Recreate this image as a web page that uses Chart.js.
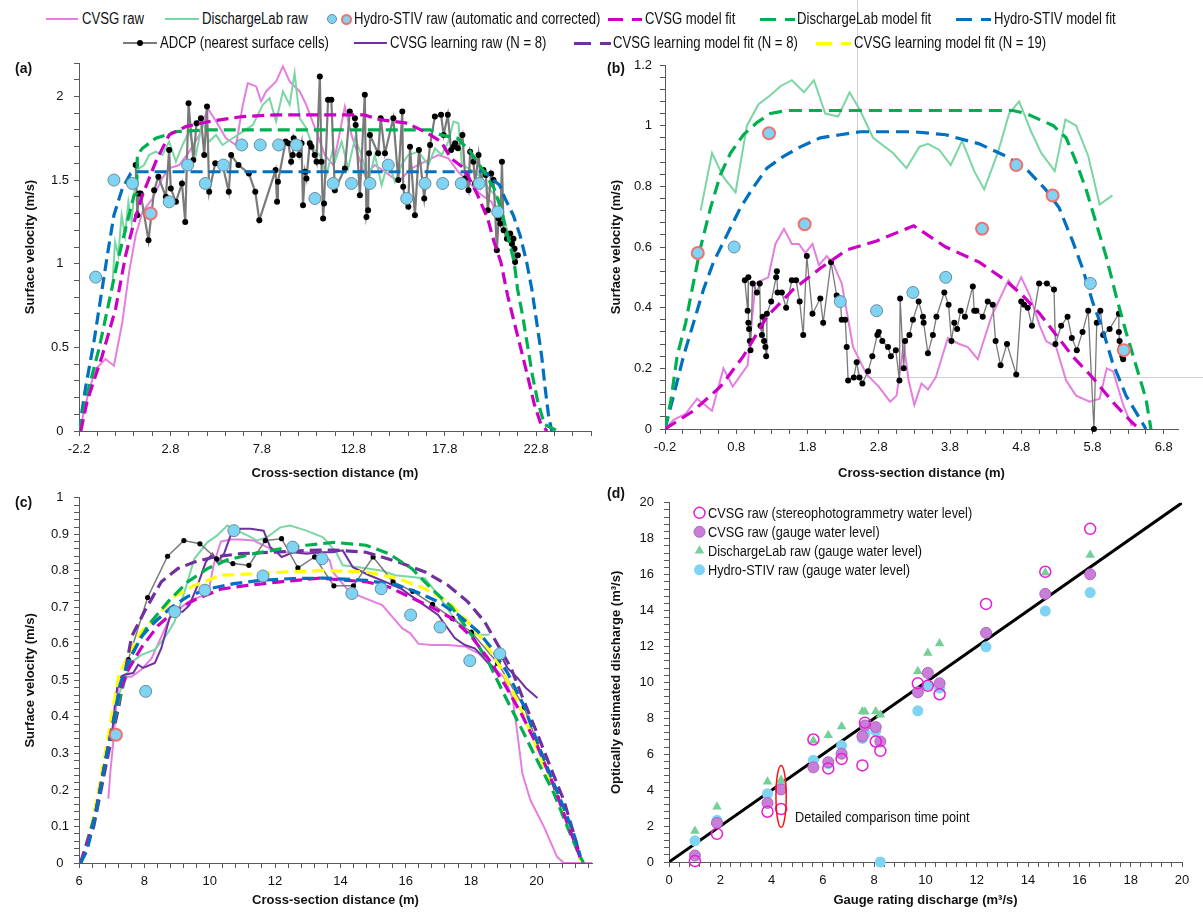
<!DOCTYPE html>
<html>
<head>
<meta charset="utf-8">
<script src="https://cdn.jsdelivr.net/npm/chart.js@4.4.1/dist/chart.umd.min.js"></script>
<style>
  body { margin: 0; background: #fff; width: 1203px; height: 924px; position: relative; overflow: hidden;
         font-family: "Liberation Sans", Arial, sans-serif; color: #111; }
  canvas { position: absolute; }
  .lg { position: absolute; font-size: 16px; line-height: 18px; white-space: nowrap; transform: scaleX(0.82); transform-origin: 0 50%; }
  .sw { position: absolute; }
  .tag { position: absolute; font-weight: bold; font-size: 14px; line-height: 18px; }
  .note { position: absolute; font-size: 15.5px; line-height: 18px; white-space: nowrap; transform: scaleX(0.82); transform-origin: 0 50%; }
</style>
</head>
<body>
<canvas id="chartA" width="600" height="437" style="left:0;top:48px"></canvas>
<canvas id="chartB" width="603" height="485" style="left:600px;top:0"></canvas>
<canvas id="chartC" width="600" height="439" style="left:0;top:485px"></canvas>
<canvas id="chartD" width="603" height="439" style="left:600px;top:485px"></canvas>
<div class="tag" style="left:15px;top:59px">(a)</div>
<div class="tag" style="left:607px;top:59px">(b)</div>
<div class="tag" style="left:15px;top:493px">(c)</div>
<div class="tag" style="left:607px;top:484px">(d)</div>
<div class="note" style="left:795px;top:808px">Detailed comparison time point</div>
<div id="legend"></div>
<script>
// ---- panel (a) ----
var aCvsgRaw = [[-2.17,0],[-1.66,0.24],[-1.29,0.37],[-0.75,0.43],[-0.29,0.39],[0.17,0.65],[0.54,0.95],[0.9,1.17],[1.27,1.31],[1.82,1.39],[2.35,1.51],[2.73,1.57],[3.28,1.59],[3.83,1.67],[4.38,1.77],[4.83,1.93],[5.3,1.85],[5.84,1.75],[6.39,1.71],[6.76,1.95],[7.03,2.08],[7.49,2.06],[7.76,1.97],[8.03,2.03],[8.58,2.09],[8.95,2.18],[9.32,2.09],[9.87,2.03],[10.23,1.95],[10.78,1.79],[11.24,1.65],[11.7,1.59],[12.0,1.75],[12.34,1.94],[12.7,1.77],[13.06,1.65],[13.43,1.53],[13.98,1.59],[14.53,1.55],[15.26,1.49],[15.99,1.57],[16.72,1.61],[17.45,1.65],[18.0,1.63],[18.54,1.55],[19.27,1.47],[19.82,1.41],[20.37,1.37],[20.6,1.3]];
var aDlRaw = [[-0.38,0.85],[-0.23,1.13],[-0.05,1.05],[0.13,1.29],[0.32,1.17],[0.5,1.37],[0.68,1.25],[0.87,1.49],[1.08,1.57],[1.36,1.59],[1.63,1.65],[2.0,1.67],[2.36,1.65],[2.73,1.73],[3.1,1.61],[3.46,1.71],[3.83,1.79],[4.19,1.65],[4.56,1.85],[4.92,1.73],[5.29,1.77],[5.65,1.71],[6.2,1.75],[6.76,1.79],[7.31,1.83],[7.85,1.95],[8.22,1.99],[8.58,1.85],[8.95,2.03],[9.32,1.95],[9.59,2.14],[9.87,1.87],[10.23,1.81],[10.6,1.69],[10.96,1.65],[11.33,1.53],[11.7,1.69],[11.79,1.61],[12.16,1.73],[12.52,1.57],[12.89,1.75],[13.25,1.65],[13.62,1.49],[13.98,1.65],[14.35,1.47],[14.71,1.61],[15.08,1.49],[15.44,1.59],[15.81,1.65],[16.36,1.67],[16.91,1.59],[17.27,1.69],[17.64,1.65],[18.0,1.73],[18.28,1.85],[18.55,1.84],[18.74,1.59],[19.1,1.57],[19.65,1.53],[20.2,1.45],[20.75,1.39],[21.1,1.25],[21.47,1.09],[21.65,0.99]];
var aCvsgFit = [[-2.1,0],[-1.75,0.18],[-0.93,0.45],[-0.2,0.73],[0.35,1.05],[0.81,1.25],[1.27,1.41],[2.0,1.61],[2.73,1.77],[3.64,1.82],[4.92,1.85],[6.75,1.88],[8.58,1.89],[11.87,1.89],[13.4,1.89],[14.3,1.86],[15.76,1.84],[16.86,1.78],[17.6,1.73],[18.14,1.63],[18.87,1.57],[19.6,1.41],[20.15,1.27],[20.5,1.13],[20.87,1.01],[21.24,0.81],[21.6,0.65],[21.97,0.49],[22.33,0.33],[22.7,0.16],[23.06,0.04],[23.4,0]];
var aDlFit = [[-2.2,0],[-1.66,0.26],[-1.11,0.49],[-0.56,0.77],[-0.1,1.01],[0.35,1.21],[0.81,1.41],[0.95,1.42],[0.99,1.65],[1.27,1.69],[2.0,1.75],[3.1,1.79],[4.9,1.8],[17.0,1.8],[17.6,1.77],[18.5,1.75],[19.2,1.67],[19.95,1.55],[20.5,1.45],[20.87,1.33],[21.24,1.17],[21.6,1.01],[21.78,0.85],[22.06,0.69],[22.33,0.51],[22.6,0.33],[22.88,0.18],[23.25,0.04],[23.98,0]];
var aStivFit = [[-2.2,0],[-1.84,0.26],[-1.39,0.53],[-1.02,0.79],[-0.65,1.05],[-0.29,1.29],[0.17,1.45],[0.63,1.54],[0.9,1.55],[20.0,1.55],[20.35,1.51],[20.8,1.47],[21.1,1.39],[21.55,1.29],[21.92,1.17],[22.28,1.01],[22.56,0.85],[22.83,0.65],[23.1,0.45],[23.29,0.26],[23.47,0.1],[23.65,0]];
var aAdcp = [[0.9,1.59],[0.99,1.29],[1.08,1.42],[1.17,1.42],[1.6,1.14],[1.91,1.44],[2.14,1.52],[2.55,1.4],[2.73,1.68],[2.82,1.45],[3.1,1.37],[3.43,1.48],[3.61,1.25],[3.79,1.96],[4.05,1.62],[4.23,1.84],[4.47,1.87],[4.65,1.65],[4.8,1.94],[4.92,1.43],[5.25,1.6],[5.65,1.59],[5.99,1.43],[6.12,1.65],[6.52,1.59],[7.09,1.54],[7.44,1.43],[7.66,1.26],[8.55,1.56],[8.63,1.37],[8.68,1.49],[9.1,1.73],[9.25,1.72],[9.4,1.61],[9.49,1.65],[9.54,1.75],[9.65,1.71],[9.76,1.7],[9.84,1.65],[9.97,1.72],[10.05,1.35],[10.16,1.55],[10.24,1.51],[10.42,1.72],[10.51,1.7],[10.69,1.65],[10.79,1.61],[10.97,2.12],[11.06,1.61],[11.15,1.27],[11.2,1.36],[11.42,1.98],[11.6,1.98],[11.79,1.44],[12.34,1.57],[12.61,1.91],[12.89,1.87],[12.93,1.83],[13.16,1.41],[13.43,2.01],[13.52,1.28],[13.61,1.32],[13.66,1.66],[13.71,1.77],[14.16,1.66],[14.3,1.87],[14.53,1.66],[14.99,1.87],[15.26,1.5],[15.48,1.91],[15.53,1.46],[15.62,1.38],[15.81,1.34],[15.9,1.7],[16.17,1.29],[16.39,1.68],[16.68,1.39],[17.0,1.71],[17.26,1.88],[17.6,1.89],[17.74,1.77],[17.97,1.89],[18.15,1.68],[18.28,1.7],[18.37,1.72],[18.52,1.69],[18.77,1.77],[18.92,1.51],[19.1,1.44],[19.19,1.67],[19.37,1.61],[19.46,1.48],[19.65,1.65],[19.79,1.48],[19.92,1.56],[20.05,1.53],[20.16,1.32],[20.34,1.54],[20.47,1.5],[20.56,1.31],[20.65,1.08],[20.75,1.27],[20.84,1.24],[20.93,1.61],[21.02,1.2],[21.2,1.15],[21.38,1.18],[21.47,1.12],[21.56,1.15],[21.62,1.09],[21.65,1.01],[21.8,1.05]];
var aStivAuto = [[-1.29,0.92],[-0.29,1.5],[0.72,1.48],[2.73,1.37],[3.74,1.59],[4.71,1.48],[5.7,1.59],[6.7,1.71],[7.71,1.71],[8.72,1.71],[9.69,1.71],[10.7,1.39],[11.7,1.48],[12.7,1.48],[13.71,1.48],[14.71,1.59],[15.72,1.39],[16.72,1.48],[17.69,1.48],[18.7,1.48],[19.69,1.48],[20.7,1.31]];
var aStivCorr = [[1.72,1.3]];

// ---- panel (b) ----
var bCvsgRaw = [[-0.2,0],[-0.08,0.03],[0.09,0.05],[0.25,0.1],[0.46,0.06],[0.62,0.2],[0.75,0.14],[0.96,0.21],[1.07,0.48],[1.25,0.5],[1.35,0.61],[1.47,0.66],[1.58,0.61],[1.68,0.61],[1.77,0.58],[1.87,0.61],[1.96,0.54],[2.07,0.57],[2.17,0.54],[2.28,0.48],[2.44,0.27],[2.63,0.18],[2.8,0.14],[2.96,0.09],[3.05,0.11],[3.15,0.28],[3.22,0.16],[3.3,0.08],[3.4,0.15],[3.49,0.13],[3.6,0.17],[3.77,0.3],[3.93,0.28],[4.05,0.27],[4.19,0.23],[4.38,0.37],[4.62,0.49],[4.72,0.46],[4.8,0.5],[4.92,0.44],[5.06,0.34],[5.15,0.29],[5.29,0.27],[5.43,0.16],[5.57,0.11],[5.76,0.09],[5.9,0.1],[6.0,0.2],[6.09,0.19],[6.23,0.08],[6.35,0.01]];
var bDlRaw = [[0.3,0.72],[0.46,0.91],[0.62,0.83],[0.79,0.78],[0.95,1.0],[1.11,1.07],[1.28,1.1],[1.42,1.13],[1.58,1.15],[1.75,1.11],[1.89,1.15],[2.05,1.04],[2.23,1.03],[2.39,1.11],[2.54,1.05],[2.72,0.96],[3.0,0.91],[3.19,0.86],[3.37,0.93],[3.49,0.94],[3.65,0.92],[3.81,0.87],[3.97,0.95],[4.14,0.85],[4.28,0.79],[4.47,0.91],[4.63,1.04],[4.77,1.08],[4.94,0.98],[5.08,0.91],[5.27,0.85],[5.42,1.02],[5.57,1.0],[5.74,0.9],[5.9,0.74],[6.08,0.77]];
var bCvsgFit = [[-0.2,0],[0.2,0.06],[0.58,0.14],[0.9,0.24],[1.23,0.37],[1.6,0.46],[1.98,0.53],[2.35,0.59],[2.77,0.62],[3.29,0.67],[3.74,0.6],[4.21,0.55],[4.58,0.49],[4.82,0.44],[5.06,0.38],[5.29,0.31],[5.52,0.24],[5.8,0.17],[6.08,0.09],[6.32,0.03],[6.45,0]];
var bDlFit = [[-0.2,0],[-0.12,0.09],[-0.03,0.24],[0.09,0.35],[0.18,0.46],[0.3,0.6],[0.44,0.73],[0.58,0.84],[0.72,0.91],[0.9,0.97],[1.09,1.01],[1.28,1.04],[1.51,1.05],[4.68,1.05],[4.87,1.04],[5.06,1.02],[5.25,1.0],[5.43,0.96],[5.57,0.88],[5.71,0.79],[5.85,0.68],[5.99,0.57],[6.13,0.44],[6.27,0.32],[6.41,0.21],[6.55,0.1],[6.62,0]];
var bStivFit = [[-0.2,0],[-0.08,0.11],[0.06,0.24],[0.2,0.35],[0.34,0.46],[0.48,0.55],[0.67,0.64],[0.86,0.73],[1.05,0.8],[1.23,0.86],[1.47,0.9],[1.7,0.93],[1.98,0.96],[2.26,0.97],[2.54,0.98],[3.28,0.98],[3.74,0.97],[4.21,0.94],[4.58,0.9],[4.86,0.86],[5.14,0.79],[5.33,0.73],[5.52,0.62],[5.66,0.53],[5.8,0.42],[5.94,0.33],[6.08,0.22],[6.27,0.11],[6.45,0.04],[6.55,0]];
var bAdcp = [[0.92,0.49],[0.96,0.39],[0.97,0.5],[0.97,0.35],[0.98,0.33],[0.99,0.29],[1.0,0.26],[1.03,0.48],[1.09,0.45],[1.13,0.48],[1.14,0.34],[1.16,0.31],[1.17,0.37],[1.19,0.29],[1.21,0.27],[1.22,0.24],[1.23,0.38],[1.29,0.42],[1.36,0.5],[1.37,0.52],[1.38,0.45],[1.44,0.45],[1.5,0.4],[1.58,0.49],[1.64,0.49],[1.69,0.42],[1.74,0.31],[1.79,0.57],[1.87,0.38],[1.98,0.43],[2.02,0.35],[2.13,0.55],[2.21,0.44],[2.26,0.43],[2.28,0.36],[2.33,0.36],[2.35,0.27],[2.37,0.16],[2.45,0.17],[2.49,0.22],[2.53,0.17],[2.57,0.15],[2.65,0.19],[2.71,0.24],[2.78,0.31],[2.8,0.32],[2.85,0.29],[2.93,0.27],[2.97,0.24],[3.04,0.26],[3.09,0.16],[3.1,0.43],[3.15,0.2],[3.17,0.29],[3.23,0.31],[3.28,0.36],[3.36,0.42],[3.42,0.37],[3.43,0.35],[3.49,0.25],[3.56,0.31],[3.61,0.37],[3.72,0.45],[3.78,0.41],[3.82,0.29],[3.86,0.35],[3.9,0.33],[3.95,0.39],[4.01,0.37],[4.12,0.47],[4.14,0.39],[4.17,0.39],[4.26,0.37],[4.33,0.42],[4.4,0.41],[4.44,0.29],[4.51,0.21],[4.6,0.28],[4.73,0.18],[4.8,0.42],[4.84,0.41],[4.89,0.4],[4.95,0.34],[5.05,0.48],[5.16,0.48],[5.26,0.46],[5.28,0.28],[5.36,0.34],[5.45,0.37],[5.51,0.3],[5.58,0.26],[5.66,0.32],[5.74,0.39],[5.82,0],[5.86,0.35],[5.91,0.39],[5.95,0.31],[6.04,0.33],[6.17,0.38],[6.17,0.32],[6.18,0.29],[6.2,0.27],[6.22,0.24],[6.23,0.23]];
var bStivAuto = [[0.77,0.6],[2.26,0.42],[2.77,0.39],[3.28,0.45],[3.74,0.5],[5.77,0.48]];
var bStivCorr = [[0.26,0.58],[1.26,0.975],[1.76,0.675],[4.25,0.66],[4.73,0.87],[5.24,0.77],[6.24,0.26]];
var bGuide = {x: 2.49, y: 0.17};

// ---- panel (c) ----
var cCvsgRaw = [[6.9,0.176],[6.96,0.25],[7.06,0.34],[7.16,0.46],[7.31,0.51],[7.61,0.51],[7.91,0.53],[8.22,0.56],[8.52,0.62],[8.82,0.68],[9.12,0.7],[9.43,0.72],[9.73,0.73],[9.98,0.75],[10.13,0.82],[10.34,0.88],[10.64,0.886],[10.94,0.886],[11.35,0.883],[11.65,0.87],[11.95,0.856],[12.36,0.851],[12.96,0.851],[13.37,0.847],[13.67,0.829],[13.77,0.797],[14.28,0.742],[14.78,0.724],[15.28,0.706],[15.63,0.67],[15.89,0.643],[16.14,0.629],[16.39,0.6],[16.8,0.597],[17.3,0.597],[17.81,0.593],[18.21,0.575],[18.61,0.543],[19.02,0.507],[19.27,0.452],[19.42,0.353],[19.57,0.244],[19.82,0.171],[20.23,0.099],[20.63,0.017],[20.84,0],[21.79,0]];
var cDlRaw = [[7.21,0.46],[7.61,0.55],[7.91,0.57],[8.32,0.584],[8.62,0.616],[8.92,0.66],[9.22,0.74],[9.53,0.833],[9.93,0.878],[10.23,0.897],[10.54,0.924],[10.84,0.91],[11.15,0.897],[11.45,0.883],[11.75,0.892],[12.16,0.919],[12.46,0.924],[12.96,0.91],[13.47,0.892],[13.87,0.851],[14.07,0.815],[14.57,0.81],[15.28,0.8],[15.68,0.788],[16.19,0.783],[16.59,0.779],[17.0,0.733],[17.41,0.679],[17.81,0.634],[18.21,0.625],[18.56,0.625]];
var cLearnRaw = [[7.0,0.344],[7.11,0.443],[7.21,0.507],[7.41,0.516],[7.66,0.52],[7.81,0.543],[7.96,0.534],[8.32,0.548],[8.52,0.588],[8.77,0.67],[8.92,0.688],[9.17,0.688],[9.38,0.706],[9.63,0.76],[9.88,0.824],[10.08,0.847],[10.23,0.824],[10.44,0.847],[10.64,0.897],[10.94,0.915],[11.25,0.915],[11.65,0.91],[11.85,0.865],[12.06,0.851],[12.2,0.838],[12.56,0.851],[12.96,0.847],[13.37,0.851],[13.77,0.851],[14.07,0.856],[14.38,0.81],[14.88,0.788],[15.38,0.77],[15.88,0.75],[16.28,0.724],[16.99,0.679],[17.5,0.616],[17.81,0.597],[18.11,0.588],[18.31,0.57],[18.51,0.548],[18.71,0.534],[18.91,0.57],[19.11,0.534],[19.42,0.507],[19.67,0.48],[20.03,0.452]];
var cCvsgFit = [[6.05,0],[6.45,0.11],[6.85,0.3],[7.21,0.46],[7.51,0.53],[7.91,0.59],[8.42,0.65],[8.92,0.69],[9.53,0.72],[10.34,0.75],[11.15,0.76],[12.16,0.77],[13.37,0.78],[13.77,0.777],[14.78,0.77],[15.48,0.756],[16.09,0.73],[16.8,0.7],[17.41,0.67],[18.01,0.62],[18.52,0.56],[19.02,0.49],[19.53,0.41],[20.03,0.32],[20.54,0.21],[20.94,0.11],[21.24,0.04],[21.39,0]];
var cDlFit = [[6.05,0],[6.5,0.135],[6.9,0.32],[7.21,0.44],[7.61,0.57],[8.11,0.65],[8.72,0.715],[9.33,0.77],[9.93,0.806],[10.54,0.83],[11.35,0.847],[12.16,0.86],[12.96,0.87],[13.8,0.878],[14.78,0.87],[15.48,0.847],[16.19,0.806],[16.8,0.75],[17.41,0.7],[18.01,0.625],[18.52,0.552],[19.02,0.46],[19.53,0.37],[20.03,0.28],[20.54,0.19],[20.94,0.1],[21.29,0.026],[21.44,0]];
var cStivFit = [[6.05,0],[6.25,0.035],[6.45,0.11],[6.65,0.2],[6.85,0.3],[7.06,0.39],[7.26,0.49],[7.51,0.55],[7.91,0.62],[8.32,0.66],[8.82,0.7],[9.33,0.73],[9.93,0.75],[10.74,0.765],[11.55,0.774],[12.56,0.779],[13.57,0.78],[14.78,0.774],[15.78,0.76],[16.39,0.74],[17.0,0.715],[17.6,0.68],[18.21,0.634],[18.61,0.59],[19.12,0.52],[19.62,0.43],[20.03,0.33],[20.43,0.24],[20.84,0.15],[21.14,0.08],[21.34,0.02]];
var cLearnFit8 = [[6.05,0],[6.45,0.1],[6.9,0.3],[7.21,0.425],[7.61,0.62],[8.01,0.69],[8.52,0.77],[9.02,0.806],[9.53,0.824],[10.13,0.838],[10.94,0.847],[11.95,0.851],[12.96,0.856],[13.8,0.857],[14.78,0.851],[15.78,0.824],[16.59,0.797],[17.3,0.76],[17.9,0.715],[18.41,0.661],[18.82,0.597],[19.22,0.534],[19.62,0.443],[20.03,0.353],[20.43,0.262],[20.84,0.171],[21.14,0.081],[21.34,0.017]];
var cLearnFit19 = [[6.05,0],[6.3,0.063],[6.6,0.2],[6.9,0.35],[7.21,0.51],[7.51,0.57],[7.91,0.634],[8.42,0.679],[8.92,0.73],[9.53,0.76],[10.34,0.788],[11.35,0.792],[12.36,0.797],[13.37,0.801],[13.77,0.8],[14.78,0.797],[15.78,0.779],[16.59,0.751],[17.3,0.715],[17.9,0.661],[18.41,0.606],[18.91,0.534],[19.42,0.443],[19.92,0.335],[20.33,0.244],[20.74,0.153],[21.14,0.063],[21.34,0.008]];
var cAdcp = [[7.51,0.557],[8.1,0.727],[8.71,0.84],[9.21,0.883],[9.7,0.874],[10.21,0.833],[10.71,0.82],[11.2,0.815],[11.7,0.883],[12.2,0.888],[12.7,0.808],[13.21,0.838],[13.8,0.759],[14.4,0.759],[15.0,0.838],[15.61,0.77],[16.21,0.744],[16.82,0.708],[17.42,0.67],[18.01,0.632],[18.82,0.547],[19.62,0.427],[20.63,0.18]];
var cStivAuto = [[8.04,0.47],[8.93,0.688],[9.85,0.747],[10.74,0.91],[11.63,0.786],[12.54,0.865],[13.44,0.833],[14.35,0.738],[15.25,0.751],[16.15,0.679],[17.05,0.646],[17.96,0.554],[18.88,0.573]];
var cStivCorr = [[7.13,0.351]];

// ---- panel (d) ----
var dGauge      = [1.01, 1.87, 3.84, 4.37, 5.63, 6.21, 6.73, 7.54, 7.64, 8.06, 8.24, 9.70, 10.09, 10.55, 12.36, 14.67, 16.42];
var dCvsgStereo = [0.05, 1.57, 2.80, 2.95, 6.82, 5.21, 5.74, 5.38, 7.76, 6.71, 6.19, 9.95, 9.81, 9.34, 14.37, 16.16, 18.55];
var dCvsgGauge  = [0.36, 2.17, 3.29, 4.04, 5.27, 5.56, 6.03, 7.00, 7.60, 7.51, 6.71, 9.45, 10.53, 9.95, 12.76, 14.93, 16.02];
var dDlGauge    = [1.72, 3.08, 4.47, 4.56, 6.75, 7.06, 7.55, 8.38, 8.36, 8.38, 8.20, 10.62, 11.64, 12.16, 12.80, 16.10, 17.10];
var dStivGauge  = [1.18, 2.32, 3.80, 4.30, 5.67, 5.48, 6.48, 6.88, 7.15, 7.29, 0.00, 8.42, 9.86, 9.68, 11.98, 13.97, 15.00];
var dOneToOne = [[0,0],[20,20]];
var dEllipse = {x: 4.37, y: 3.65, rx: 0.2, ry: 1.72};

var FONT = '"Liberation Sans", Arial, sans-serif';
var C = {
    cvsgRaw: '#e47fdf', dlRaw: '#7ad6a2', cvsgFit: '#cc00c4', dlFit: '#00b050', stivFit: '#0070c0',
    adcpLine: '#7a7a7a', adcpDot: '#000000', learn: '#7030a0', learn19: '#ffff00',
    stivFill: '#7fd3f3', stivEdge: '#6a8c9a', stivCorr: '#f27070'
};

Chart.defaults.font.family = FONT;
Chart.defaults.color = '#111';

var pts = function (arr) { return arr.map(function (p) { return {x: p[0], y: p[1]}; }); };

function rawLine(data, color, order, width) {
    return {data: pts(data), showLine: true, borderColor: color, backgroundColor: color,
        borderWidth: width || 2, pointRadius: 0, order: order};
}
function fitLine(data, color, order, dash) {
    return {data: pts(data), showLine: true, borderColor: color, backgroundColor: color,
        borderWidth: 3.2, borderDash: dash || [12, 6], pointRadius: 0, order: order};
}
function adcpLine(data, width, radius) {
    return {data: pts(data), showLine: true, borderColor: C.adcpLine, borderWidth: width,
        pointRadius: radius, pointBackgroundColor: C.adcpDot, pointBorderColor: C.adcpDot,
        pointBorderWidth: 0, order: 5, clip: false};
}
function stivPoints(data, corrected) {
    return {data: pts(data), showLine: false, pointRadius: 6, pointBackgroundColor: C.stivFill,
        pointBorderColor: corrected ? C.stivCorr : C.stivEdge, pointBorderWidth: corrected ? 2 : 1,
        order: 0, clip: false};
}

function tickValues(min, last, step) {
    var out = [], n = Math.floor((last - min) / step + 1e-6);
    for (var i = 0; i <= n; i++) out.push(+(min + i * step).toFixed(6));
    return out;
}
function isMajor(v, base, major) {
    var k = (v - base) / major;
    return Math.abs(k - Math.round(k)) < 1e-6;
}

function axis(o) {
    var vals = tickValues(o.min, o.last, o.minor);
    return {
        type: 'linear', position: o.pos, min: o.min, max: o.max,
        afterBuildTicks: function (ax) { ax.ticks = vals.map(function (v) { return {value: v}; }); },
        afterFit: function (ax) { if (o.pos === 'left') ax.width = o.size; else ax.height = o.size; },
        border: {display: true, color: '#595959', width: 1},
        grid: {drawOnChartArea: false, drawTicks: true, tickLength: 5, color: '#595959', tickColor: '#595959'},
        ticks: {
            autoSkip: false, maxRotation: 0, minRotation: 0, padding: o.tickPad,
            crossAlign: o.align || 'near', color: '#111', font: {size: 13},
            callback: function (v) { return isMajor(v, o.min, o.major) ? String(Math.round(v * 100) / 100) : ''; }
        },
        title: {display: true, text: o.title, color: '#111', font: {size: 13, weight: 'bold'},
            padding: o.pos === 'left' ? {top: o.titlePad, bottom: 0} : {top: 0, bottom: o.titlePad}}
    };
}

function options(pad, xAxis, yAxis) {
    return {
        responsive: false, animation: false, events: [], devicePixelRatio: 1,
        layout: {padding: pad},
        plugins: {legend: {display: false}, tooltip: {enabled: false}},
        scales: {x: axis(xAxis), y: axis(yAxis)}
    };
}

var xDist = 'Cross-section distance (m)';
var yVel = 'Surface velocity (m/s)';

// (a)
new Chart(document.getElementById('chartA'), {
    type: 'scatter',
    data: {datasets: [
        stivPoints(aStivAuto, false), stivPoints(aStivCorr, true),
        fitLine(aCvsgFit, C.cvsgFit, 1), fitLine(aDlFit, C.dlFit, 2), fitLine(aStivFit, C.stivFit, 3),
        adcpLine(aAdcp, 2.2, 3),
        rawLine(aCvsgRaw, C.cvsgRaw, 7), rawLine(aDlRaw, C.dlRaw, 6)
    ]},
    options: options({left: 0, right: 9, top: 15, bottom: 0},
        {pos: 'bottom', min: -2.2, max: 25.8, last: 25.8, minor: 1, major: 5, size: 54, tickPad: 6, title: xDist, titlePad: 4},
        {pos: 'left', min: 0, max: 2.2, last: 2.2, minor: 0.1, major: 0.5, size: 79, tickPad: 5, align: 'center', title: yVel, titlePad: 23})
});

// (b)
var guideLines = {
    id: 'guideLines',
    beforeDatasetsDraw: function (chart) {
        var ctx = chart.ctx, px = chart.scales.x.getPixelForValue(bGuide.x), py = chart.scales.y.getPixelForValue(bGuide.y);
        ctx.save();
        ctx.strokeStyle = '#d0d0d0';
        ctx.lineWidth = 1;
        ctx.beginPath();
        ctx.moveTo(Math.round(px) + 0.5, 0);
        ctx.lineTo(Math.round(px) + 0.5, Math.round(py) + 0.5);
        ctx.lineTo(chart.width, Math.round(py) + 0.5);
        ctx.stroke();
        ctx.restore();
    }
};
new Chart(document.getElementById('chartB'), {
    type: 'scatter',
    data: {datasets: [
        stivPoints(bStivAuto, false), stivPoints(bStivCorr, true),
        fitLine(bCvsgFit, C.cvsgFit, 1, [13, 7]), fitLine(bDlFit, C.dlFit, 2, [13, 7]), fitLine(bStivFit, C.stivFit, 3, [13, 7]),
        adcpLine(bAdcp, 1.3, 3),
        rawLine(bCvsgRaw, C.cvsgRaw, 7), rawLine(bDlRaw, C.dlRaw, 6)
    ]},
    options: options({left: 0, right: 25, top: 65, bottom: 0},
        {pos: 'bottom', min: -0.2, max: 7.0, last: 7.0, minor: 0.25, major: 1, size: 56, tickPad: 6, title: xDist, titlePad: 4},
        {pos: 'left', min: 0, max: 1.2, last: 1.2, minor: 0.04, major: 0.2, size: 65, tickPad: 8, title: yVel, titlePad: 9}),
    plugins: [guideLines]
});

// (c)
new Chart(document.getElementById('chartC'), {
    type: 'scatter',
    data: {datasets: [
        stivPoints(cStivAuto, false), stivPoints(cStivCorr, true),
        adcpLine(cAdcp, 1.5, 2.6),
        fitLine(cCvsgFit, C.cvsgFit, 2), fitLine(cDlFit, C.dlFit, 3), fitLine(cStivFit, C.stivFit, 1),
        fitLine(cLearnFit8, C.learn, 3), fitLine(cLearnFit19, C.learn19, 4),
        rawLine(cLearnRaw, C.learn, 6), rawLine(cCvsgRaw, C.cvsgRaw, 8), rawLine(cDlRaw, C.dlRaw, 7)
    ]},
    options: options({left: 0, right: 2, top: 10, bottom: 0},
        {pos: 'bottom', min: 6, max: 21.7, last: 21.6, minor: 0.4, major: 2, size: 61, tickPad: 6, title: xDist, titlePad: 16},
        {pos: 'left', min: 0, max: 1, last: 1, minor: 0.02, major: 0.1, size: 79, tickPad: 5, align: 'center', title: yVel, titlePad: 23})
});

// (d)
var pair = function (ys) { return dGauge.map(function (x, i) { return {x: x, y: ys[i]}; }); };
var insideLegend = {
    id: 'insideLegend',
    afterDatasetsDraw: function (chart) {
        var ctx = chart.ctx, area = chart.chartArea, y = area.top + 10, x = area.left + 30.5;
        ctx.save();
        ctx.font = '15.5px ' + FONT;
        ctx.textBaseline = 'middle';
        chart.data.datasets.forEach(function (ds) {
            if (!ds.label) return;
            ctx.fillStyle = ds.backgroundColor;
            ctx.strokeStyle = ds.borderColor || ds.backgroundColor;
            ctx.lineWidth = ds.borderWidth || 0;
            Chart.helpers.drawPoint(ctx, {pointStyle: ds.pointStyle, radius: ds.pointRadius,
                borderWidth: ds.borderWidth || 0, rotation: 0}, x, y);
            ctx.save();
            ctx.translate(x + 8.5, y + 1);
            ctx.scale(0.82, 1);
            ctx.fillStyle = '#111';
            ctx.fillText(ds.label, 0, 0);
            ctx.restore();
            y += 19;
        });
        ctx.restore();
    }
};
var ellipseMark = {
    id: 'ellipseMark',
    afterDatasetsDraw: function (chart) {
        var xs = chart.scales.x, ys = chart.scales.y, ctx = chart.ctx;
        var cx = xs.getPixelForValue(dEllipse.x), cy = ys.getPixelForValue(dEllipse.y);
        var rx = Math.abs(xs.getPixelForValue(dEllipse.x + dEllipse.rx) - cx);
        var ry = Math.abs(ys.getPixelForValue(dEllipse.y + dEllipse.ry) - cy);
        ctx.save();
        ctx.strokeStyle = '#ff1010';
        ctx.lineWidth = 1.5;
        ctx.beginPath();
        ctx.ellipse(cx, cy, rx, ry, 0, 0, Math.PI * 2);
        ctx.stroke();
        ctx.restore();
    }
};
new Chart(document.getElementById('chartD'), {
    type: 'scatter',
    data: {datasets: [
        {label: 'CVSG raw (stereophotogrammetry water level)', data: pair(dCvsgStereo), pointStyle: 'circle', pointRadius: 5.5,
            backgroundColor: 'rgba(255,255,255,0)', borderColor: '#e61ed6', borderWidth: 1.5, order: 1, clip: false},
        {label: 'CVSG raw (gauge water level)', data: pair(dCvsgGauge), pointStyle: 'circle', pointRadius: 5.5,
            backgroundColor: '#c97fd8', borderColor: '#b060c4', borderWidth: 1, order: 2, clip: false},
        {label: 'DischargeLab raw (gauge water level)', data: pair(dDlGauge), pointStyle: 'triangle', pointRadius: 5.5,
            backgroundColor: '#74cf98', borderColor: '#74cf98', borderWidth: 0, order: 3, clip: false},
        {label: 'Hydro-STIV raw (gauge water level)', data: pair(dStivGauge), pointStyle: 'circle', pointRadius: 5.5,
            backgroundColor: '#7fd3f3', borderColor: '#7fd3f3', borderWidth: 0, order: 4, clip: false},
        {data: pts(dOneToOne), showLine: true, borderColor: '#000', borderWidth: 3, pointRadius: 0, order: 6}
    ]},
    options: options({left: 0, right: 21, top: 8, bottom: 0},
        {pos: 'bottom', min: 0, max: 20, last: 20, minor: 0.4, major: 2, size: 62, tickPad: 6, title: 'Gauge rating discharge (m³/s)', titlePad: 16},
        {pos: 'left', min: 0, max: 20, last: 20, minor: 0.4, major: 2, size: 69, tickPad: 10, title: 'Optically estimated discharge (m³/s)', titlePad: 9}),
    plugins: [insideLegend, ellipseMark]
});

// top legend (shared by panels a-c)
var legendRows = [19, 43];
var topLegend = [
    {row: 0, kind: 'line', color: C.cvsgRaw, from: 46, to: 78, textX: 82, text: 'CVSG raw'},
    {row: 0, kind: 'line', color: C.dlRaw, from: 165, to: 199, textX: 202, text: 'DischargeLab raw'},
    {row: 0, kind: 'stiv', from: 327, to: 351, textX: 354, text: 'Hydro-STIV raw (automatic and corrected)'},
    {row: 0, kind: 'dash', color: C.cvsgFit, from: 608, to: 642, textX: 645, text: 'CVSG model fit'},
    {row: 0, kind: 'dash', color: C.dlFit, from: 760, to: 795, textX: 797, text: 'DischargeLab model fit'},
    {row: 0, kind: 'dash', color: C.stivFit, from: 956, to: 991, textX: 994, text: 'Hydro-STIV model fit'},
    {row: 1, kind: 'adcp', from: 123, to: 157, textX: 160, text: 'ADCP (nearest surface cells)'},
    {row: 1, kind: 'line', color: C.learn, from: 354, to: 387, textX: 390, text: 'CVSG learning raw (N = 8)'},
    {row: 1, kind: 'dash', color: C.learn, from: 574, to: 611, textX: 613, text: 'CVSG learning model fit (N = 8)'},
    {row: 1, kind: 'dash', color: C.learn19, from: 816, to: 851, textX: 854, text: 'CVSG learning model fit (N = 19)'}
];
var box = document.getElementById('legend');
function addDiv(cls, css, text) {
    var d = document.createElement('div');
    d.className = cls;
    d.style.cssText = css;
    if (text) d.textContent = text;
    box.appendChild(d);
}
topLegend.forEach(function (it) {
    var cy = legendRows[it.row], w = it.to - it.from;
    if (it.kind === 'line') {
        addDiv('sw', 'left:' + it.from + 'px;top:' + (cy - 1.25) + 'px;width:' + w + 'px;height:2.5px;background:' + it.color);
    } else if (it.kind === 'dash') {
        var d1 = Math.round(w * 0.45), g = Math.round(w * 0.25);
        addDiv('sw', 'left:' + it.from + 'px;top:' + (cy - 1.5) + 'px;width:' + d1 + 'px;height:3px;background:' + it.color);
        addDiv('sw', 'left:' + (it.from + d1 + g) + 'px;top:' + (cy - 1.5) + 'px;width:' + (w - d1 - g) + 'px;height:3px;background:' + it.color);
    } else if (it.kind === 'adcp') {
        addDiv('sw', 'left:' + it.from + 'px;top:' + (cy - 1) + 'px;width:' + w + 'px;height:2px;background:' + C.adcpLine);
        addDiv('sw', 'left:' + (it.from + w / 2 - 3) + 'px;top:' + (cy - 3) + 'px;width:6px;height:6px;border-radius:50%;background:#000');
    } else if (it.kind === 'stiv') {
        addDiv('sw', 'left:' + (it.from) + 'px;top:' + (cy - 5) + 'px;width:8px;height:8px;border-radius:50%;background:' + C.stivFill + ';border:1px solid ' + C.stivEdge);
        addDiv('sw', 'left:' + (it.from + 14) + 'px;top:' + (cy - 5.5) + 'px;width:7px;height:7px;border-radius:50%;background:' + C.stivFill + ';border:2px solid ' + C.stivCorr);
    }
    addDiv('lg', 'left:' + it.textX + 'px;top:' + (cy - 9) + 'px', it.text);
});
</script>
</body>
</html>
